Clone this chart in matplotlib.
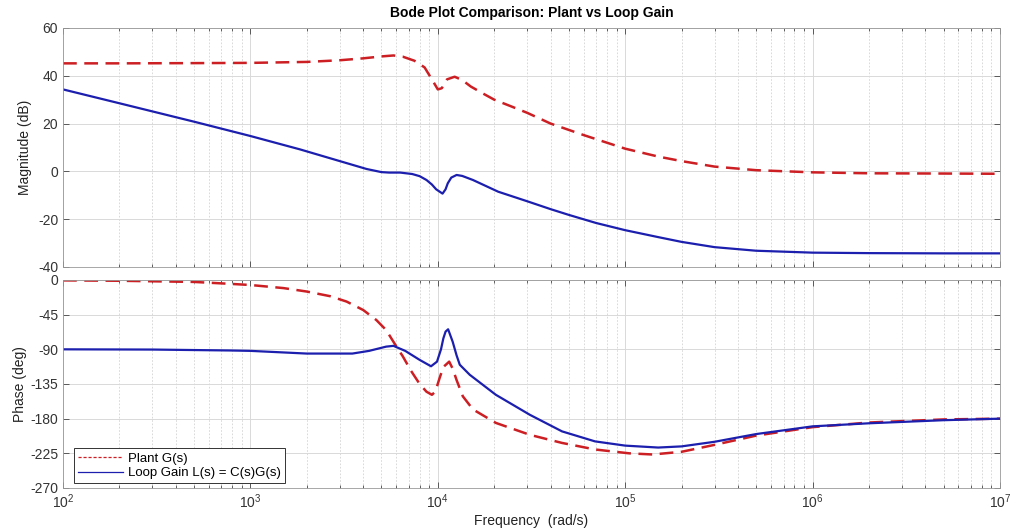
import matplotlib
matplotlib.use("Agg")
import matplotlib.pyplot as plt
from matplotlib.lines import Line2D
from matplotlib.ticker import LogLocator, NullFormatter, MultipleLocator

plt.rcParams['font.family'] = ['Liberation Sans', 'DejaVu Sans']
plt.rcParams['mathtext.fontset'] = 'custom'
plt.rcParams['mathtext.rm'] = 'Liberation Sans'
plt.rcParams['axes.unicode_minus'] = False

# ---------------- data ----------------
plant_mag_w = [100, 200, 500, 1000, 2000, 3000, 4000, 5000, 5800, 6500, 7500, 8500,
               9300, 10000, 10500, 11200, 12300, 13500, 15000, 17500, 20000, 25000,
               30000, 40000, 60000, 100000, 150000, 200000, 300000, 500000, 1e6, 2e6, 5e6, 1e7]
plant_mag_db = [45.2, 45.2, 45.3, 45.4, 45.8, 46.5, 47.3, 48.1, 48.5, 48.0, 46.3, 43.5,
                38.5, 34.3, 34.8, 38.5, 39.6, 38.2, 35.5, 32.5, 30.0, 27.0,
                24.5, 20.0, 15.2, 9.5, 6.2, 4.3, 2.0, 0.5, -0.4, -0.8, -0.9, -1.0]

loop_mag_w = [100, 200, 500, 1000, 1840, 3000, 4170, 5000, 5500, 6300, 7300, 8000,
              8700, 9300, 9800, 10600, 11000, 11300, 11800, 12600, 13500, 15400,
              21000, 30000, 40000, 50000, 70000, 100000, 150000, 200000, 300000,
              500000, 1e6, 2e6, 5e6, 1e7]
loop_mag_db = [34.3, 28.5, 20.8, 14.8, 9.2, 4.3, 1.0, -0.3, -0.5, -0.5, -1.1, -2.0,
               -3.6, -5.5, -7.5, -9.3, -7.5, -5.0, -2.6, -1.5, -1.9, -3.6,
               -8.5, -12.5, -15.8, -18.2, -21.6, -24.6, -27.5, -29.5, -31.7,
               -33.2, -34.0, -34.2, -34.3, -34.3]

plant_ph_w = [100, 200, 500, 780, 1000, 1500, 2000, 2660, 3260, 4000, 4700, 5300,
              6000, 6500, 7200, 8000, 8700, 9300, 9700, 10200, 10700, 11500, 12000,
              12600, 13600, 15400, 20400, 31000, 46000, 69000, 105000, 140000,
              200000, 300000, 500000, 1e6, 2e6, 5e6, 1e7]
plant_ph_deg = [-0.5, -1, -2.5, -5, -6.5, -10.5, -15, -21, -28, -39, -52, -65,
                -86, -99, -118, -135, -145, -149, -145, -128, -113, -106, -115,
                -130, -151, -168, -185.5, -201, -211.5, -220, -225, -226.5,
                -223, -214, -202, -191, -185, -181, -180]

loop_ph_w = [100, 300, 780, 1000, 2000, 3500, 4300, 5300, 5800, 6700, 8000, 9200,
             9900, 10400, 10700, 11000, 11350, 12000, 12600, 13100, 14800, 20400,
             31000, 46000, 69000, 100000, 150000, 200000, 300000, 500000, 1e6,
             2e6, 5e6, 1e7]
loop_ph_deg = [-90, -90.3, -91.5, -92, -95.5, -95.5, -92, -86.5, -85.5, -92, -103.7, -112,
               -106, -90, -76, -67, -64, -80, -98, -110, -123, -149,
               -175, -196.5, -209.5, -215, -217.5, -216, -210, -200, -190,
               -186, -182, -180]

plant_label = "Plant G(s)"
loop_label = "Loop Gain L(s) = C(s)G(s)"
title = "Bode Plot Comparison: Plant vs Loop Gain"

red = '#cc1f24'
blue = '#1c1fae'
axcol = '#262626'
dash = (0, (5.5, 3.0))

fig = plt.figure(figsize=(10.15, 5.31), dpi=100)
ax1 = fig.add_axes([0.0621, 0.4972, 0.9231, 0.4501])
ax2 = fig.add_axes([0.0621, 0.0810, 0.9231, 0.3917])

ax1.semilogx(plant_mag_w, plant_mag_db, color=red, lw=1.8, ls=dash)
ax1.semilogx(loop_mag_w, loop_mag_db, color=blue, lw=1.6)
ax2.semilogx(plant_ph_w, plant_ph_deg, color=red, lw=1.8, ls=dash)
ax2.semilogx(loop_ph_w, loop_ph_deg, color=blue, lw=1.6)

for ax in (ax1, ax2):
    ax.set_xlim(1e2, 1e7)
    ax.xaxis.set_major_locator(LogLocator(base=10, numticks=10))
    ax.xaxis.set_minor_locator(LogLocator(base=10, subs=range(2, 10), numticks=100))
    ax.xaxis.set_minor_formatter(NullFormatter())
    ax.grid(which='major', color='#d9d9d9', lw=0.7, ls='-')
    ax.grid(which='minor', axis='x', color='#d3d3d3', lw=0.6, ls=(0, (2, 2)))
    ax.tick_params(which='both', direction='in', top=True, right=True,
                   colors=axcol, labelcolor='#333333', labelsize=10)
    ax.tick_params(which='major', length=4, width=0.5)
    ax.tick_params(which='minor', length=2.5, width=0.5)
    for sp in ax.spines.values():
        sp.set_color('#999999')
        sp.set_linewidth(0.6)
    ax.set_axisbelow(True)

ax1.set_ylim(-40, 60)
ax1.yaxis.set_major_locator(MultipleLocator(20))
ax1.tick_params(labelbottom=False)
ax1.set_ylabel("Magnitude (dB)", fontsize=10, color='#222222', labelpad=4)
ax1.set_title(title, fontsize=10, fontweight='bold', pad=8)

ax2.set_ylim(-270, 0)
ax2.yaxis.set_major_locator(MultipleLocator(45))
ax2.set_ylabel("Phase (deg)", fontsize=10, color='#222222', labelpad=2)
ax2.set_xlabel("Frequency  (rad/s)", fontsize=10, color='#222222', labelpad=2)

handles = [Line2D([], [], color=red, lw=0.9, ls=(0, (2.5, 1.5))),
           Line2D([], [], color=blue, lw=0.9)]
leg = ax2.legend(handles, [plant_label, loop_label], loc='lower left',
                 bbox_to_anchor=(0.012, 0.022), fontsize=9.5, fancybox=False,
                 framealpha=1, edgecolor='#333333', borderpad=0.3,
                 handlelength=3.4, handletextpad=0.4, labelspacing=0.2,
                 borderaxespad=0)
leg.get_frame().set_linewidth(0.7)

fig.savefig("out.png", dpi=100)
